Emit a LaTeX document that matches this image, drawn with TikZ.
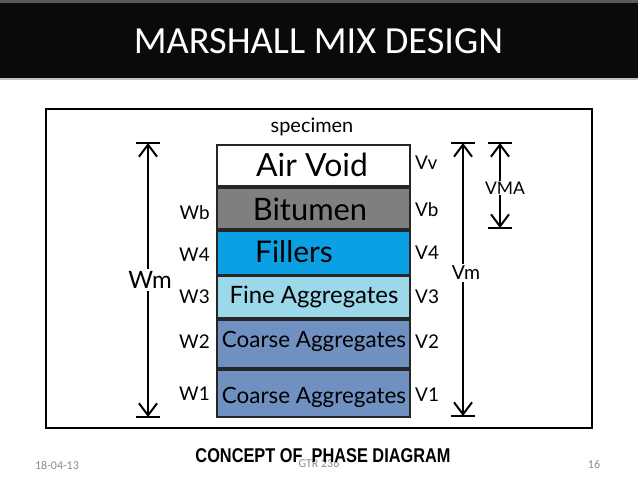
\documentclass[tikz,border=0pt]{standalone}
\usepackage{fontspec}
\setmainfont{Lato}
\newfontfamily\titlefont{Carlito}
\newfontfamily\capfont{Liberation Sans}
\usetikzlibrary{arrows.meta}
\definecolor{bitgray}{HTML}{7F7F7F}
\definecolor{fillblue}{HTML}{0BA0E3}
\definecolor{fineblue}{HTML}{9AD8EA}
\definecolor{coarseblue}{HTML}{6F90C1}
\definecolor{footgray}{HTML}{8C8C8C}
\begin{document}
\begin{tikzpicture}[x=1bp,y=-1bp,
  layer/.style={draw=black!85, line width=2bp, minimum width=193bp, inner sep=0pt},
  boxtext/.style={inner sep=0pt, text=black},
  side/.style={inner sep=1pt, font=\fontsize{19}{21}\selectfont},
  dimlabel/.style={fill=white, inner sep=2pt, font=\fontsize{24}{26}\selectfont},
  dim/.style={line width=2bp, -{Straight Barb[length=12bp,width=18bp,line width=2bp]}},
  endbar/.style={line width=2bp}]
\useasboundingbox (0,0) rectangle (638,479);
% title bar
\fill[black!65] (0,0) rectangle (638,3);
\fill[black!96] (0,3) rectangle (638,78);
\fill[black!25] (0,78) rectangle (638,80);
\node[text=white, font=\titlefont\fontsize{38.5}{40}\selectfont] (title) at (318.5,41) {MARSHALL MIX DESIGN};
% frame
\draw[line width=2bp] (46,109) rectangle (592,428);
% specimen
\node[side, font=\fontsize{20}{22}\selectfont] (spec) at (312,127) {specimen};
% layers
\node[layer, fill=white, minimum height=41bp] (air) at (313.3,165.5) {};
\node[layer, fill=bitgray, minimum height=41bp] (bit) at (313.3,208.5) {};
\node[layer, fill=fillblue, minimum height=43bp] (fil) at (313.3,253) {};
\node[layer, fill=fineblue, minimum height=42bp] (fine) at (313.3,297) {};
\node[layer, fill=coarseblue, minimum height=48bp] (co2) at (313.3,344) {};
\node[layer, fill=coarseblue, minimum height=47bp] (co1) at (313.3,393.5) {};
\node[boxtext, font=\fontsize{32}{34}\selectfont] (airt) at (312,165) {Air Void};
\node[boxtext, font=\fontsize{31}{33}\selectfont] (bitt) at (310,209) {Bitumen};
\node[boxtext, font=\fontsize{30}{32}\selectfont] (filt) at (294,252) {Fillers};
\node[boxtext, font=\fontsize{24}{26}\selectfont] (finet) at (314,297) {Fine Aggregates};
\node[boxtext, font=\fontsize{22.5}{24}\selectfont] (co2t) at (314,341) {Coarse Aggregates};
\node[boxtext, font=\fontsize{22.5}{24}\selectfont] (co1t) at (314,397) {Coarse Aggregates};
% left labels
\node[side, anchor=east] (wb) at (211,213) {Wb};
\node[side, anchor=east] (w4) at (211,255) {W4};
\node[side, anchor=east] (w3) at (211,297) {W3};
\node[side, anchor=east] (w2) at (211,342) {W2};
\node[side, anchor=east] (w1) at (211,394) {W1};
% right labels
\node[side, anchor=west] (vv) at (414,163) {Vv};
\node[side, anchor=west] (vb) at (414,210) {Vb};
\node[side, anchor=west] (v4) at (414,253) {V4};
\node[side, anchor=west] (v3) at (414,297) {V3};
\node[side, anchor=west] (v2) at (414,342) {V2};
\node[side, anchor=west] (v1) at (414,395) {V1};
% Wm dimension
\coordinate (wmtop) at (148,143);
\coordinate (wmbot) at (148,417);
\coordinate (wmtl) at (136,143); \coordinate (wmtr) at (160,143);
\coordinate (wmbl) at (136,417); \coordinate (wmbr) at (160,417);
\node[dimlabel] (wm) at (150,280) {Wm};
\draw[dim] (wm.north -| wmtop) -- (wmtop);
\draw[dim] (wm.south -| wmbot) -- (wmbot);
\draw[endbar] (wmtl) -- (wmtr);
\draw[endbar] (wmbl) -- (wmbr);
% Vm dimension
\coordinate (vmtop) at (463,143);
\coordinate (vmbot) at (463,416);
\coordinate (vmtl) at (451,143); \coordinate (vmtr) at (475,143);
\coordinate (vmbl) at (451,416); \coordinate (vmbr) at (475,416);
\node[dimlabel, font=\fontsize{19.5}{21}\selectfont] (vm) at (466,273) {Vm};
\draw[dim] (vm.north -| vmtop) -- (vmtop);
\draw[dim] (vm.south -| vmbot) -- (vmbot);
\draw[endbar] (vmtl) -- (vmtr);
\draw[endbar] (vmbl) -- (vmbr);
% VMA dimension
\coordinate (vatop) at (500,143);
\coordinate (vabot) at (500,228);
\coordinate (vatl) at (488,143); \coordinate (vatr) at (512,143);
\coordinate (vabl) at (488,228); \coordinate (vabr) at (512,228);
\node[dimlabel, inner sep=1pt, font=\fontsize{17.5}{19}\selectfont] (vma) at (505,188) {VMA};
\draw[dim] (vma.north -| vatop) -- (vatop);
\draw[dim] (vma.south -| vabot) -- (vabot);
\draw[endbar] (vatl) -- (vatr);
\draw[endbar] (vabl) -- (vabr);
% footer
\node[text=footgray, font=\titlefont\fontsize{12}{14}\selectfont] (date) at (57,465) {18-04-13};
\node[text=footgray, font=\titlefont\fontsize{12}{14}\selectfont] (gtr) at (319,464) {GTR 236};
\node[text=footgray, font=\titlefont\fontsize{12}{14}\selectfont] (pg) at (594,465) {16};
\node[xscale=0.82, font=\capfont\bfseries\fontsize{20}{22}\selectfont] (cap) at (323,456) {CONCEPT OF\ \ PHASE DIAGRAM};
\end{tikzpicture}
\end{document}
